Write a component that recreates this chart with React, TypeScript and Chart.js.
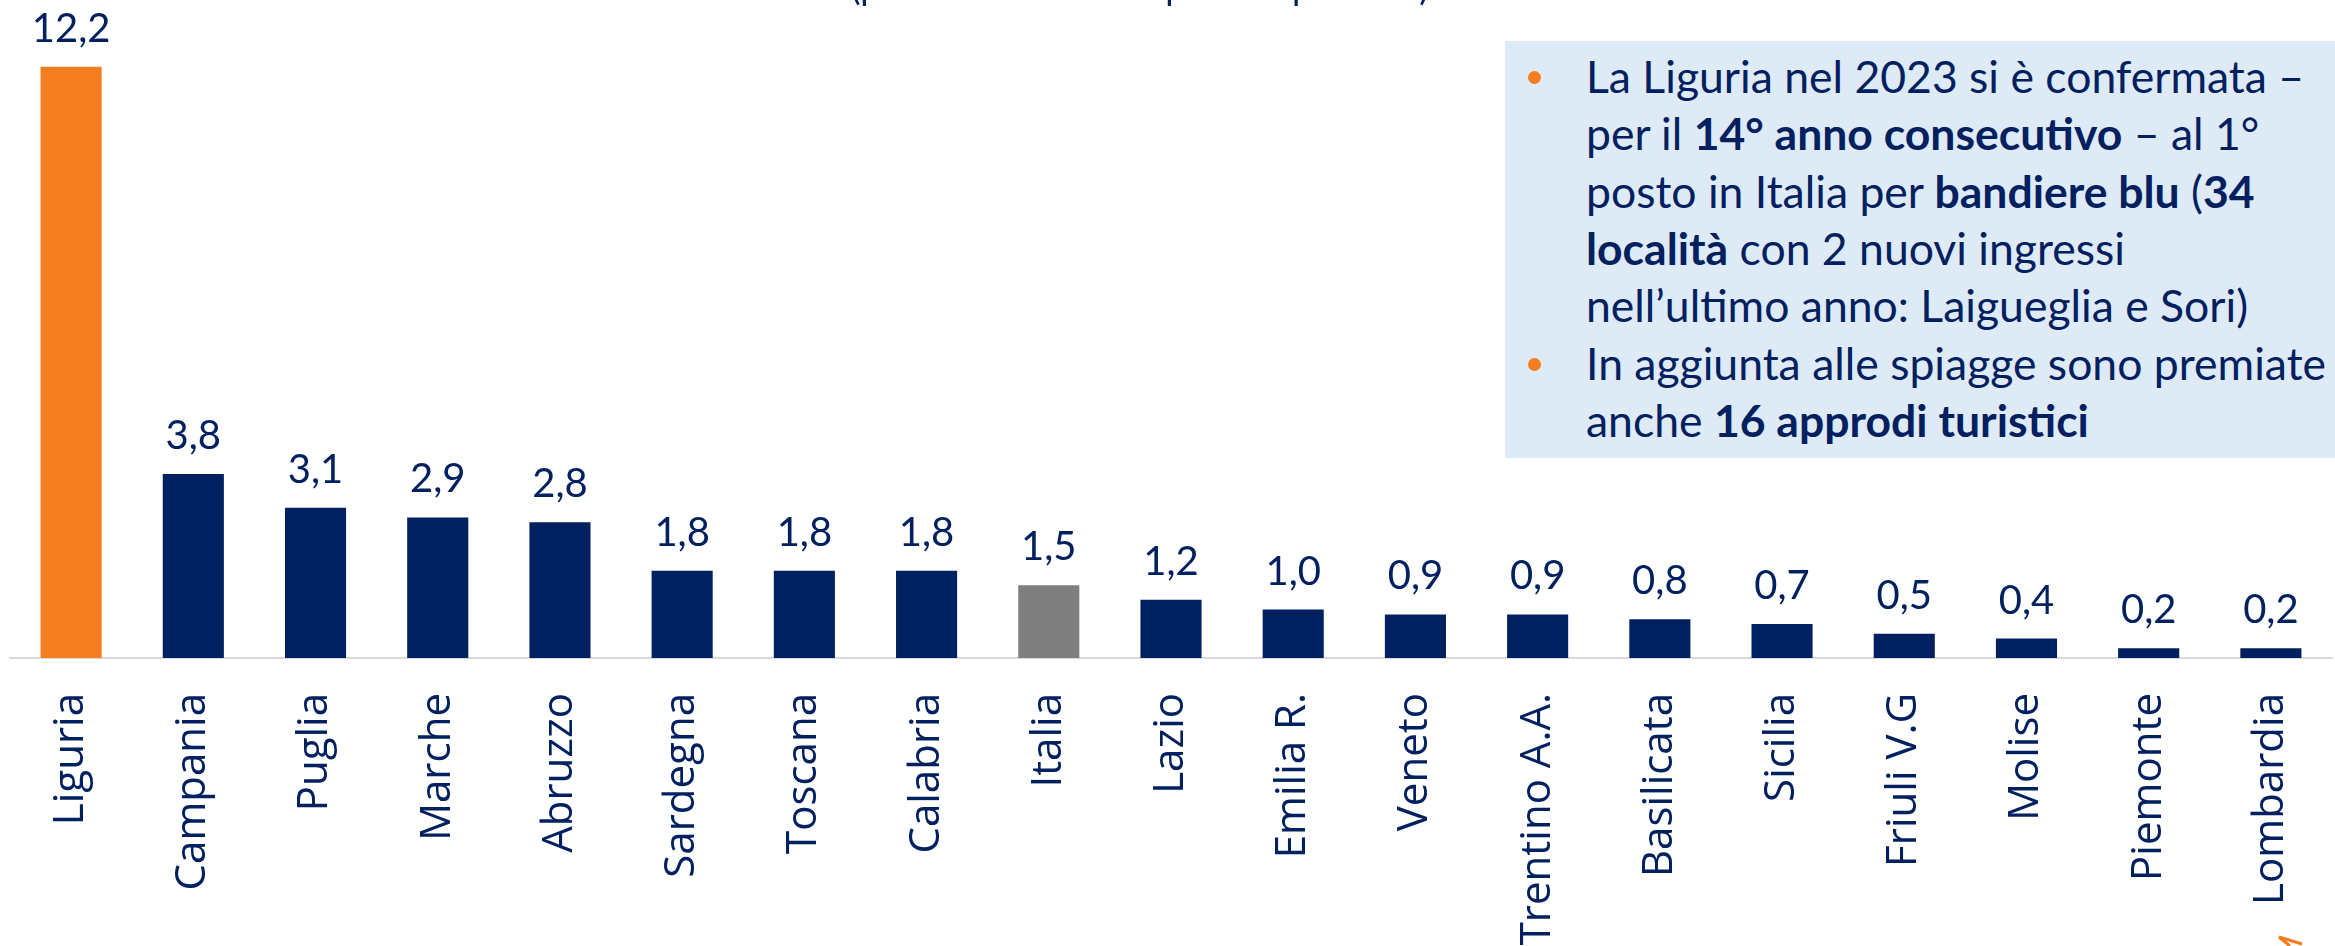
import React, { useEffect, useRef } from "react";
import { Chart, registerables } from "chart.js";

Chart.register(...registerables);

// ---- data ----
const categories: string[] = [
  "Liguria", "Campania", "Puglia", "Marche", "Abruzzo", "Sardegna", "Toscana",
  "Calabria", "Italia", "Lazio", "Emilia R.", "Veneto", "Trentino A.A.",
  "Basilicata", "Sicilia", "Friuli V.G", "Molise", "Piemonte", "Lombardia",
];
const values: number[] = [
  12.2, 3.8, 3.1, 2.9, 2.8, 1.8, 1.8, 1.8, 1.5, 1.2, 1.0, 0.9, 0.9, 0.8, 0.7, 0.5, 0.4, 0.2, 0.2,
];
const highlightCategory = "Liguria";
const averageCategory = "Italia";
const titleText = "(per 1.000 km² di superficie per area)";

type Seg = { t: string; b?: boolean };
const noteLines: { bullet: boolean; segs: Seg[] }[] = [
  { bullet: true, segs: [{ t: "La Liguria nel 2023 si è confermata –" }] },
  { bullet: false, segs: [{ t: "per il " }, { t: "14° anno consecutivo", b: true }, { t: " – al 1°" }] },
  { bullet: false, segs: [{ t: "posto in Italia per " }, { t: "bandiere blu", b: true }, { t: " (" }, { t: "34", b: true }] },
  { bullet: false, segs: [{ t: "località", b: true }, { t: " con 2 nuovi ingressi" }] },
  { bullet: false, segs: [{ t: "nell’ultimo anno: Laigueglia e Sori)" }] },
  { bullet: true, segs: [{ t: "In aggiunta alle spiagge sono premiate" }] },
  { bullet: false, segs: [{ t: "anche " }, { t: "16 approdi turistici", b: true }] },
];

const NAVY = "#002060";
const ORANGE = "#F47D20";
const GREY = "#7F7F7F";
const W = 2335;
const H = 946;
const VALUE_FONT = "Lato";
const TEXT_FONT = "Lato";
const LABEL_FONT = "'Open Sans'";

const fmt = (v: number) => v.toFixed(1).replace(".", ",");

const valueLabelPlugin = {
  id: "valueLabels",
  afterDatasetsDraw(chart: any) {
    const ctx = chart.ctx;
    const meta = chart.getDatasetMeta(0);
    ctx.save();
    ctx.font = `40px ${VALUE_FONT}`;
    ctx.fillStyle = NAVY;
    ctx.textAlign = "center";
    ctx.textBaseline = "alphabetic";
    meta.data.forEach((el: any, i: number) => {
      const v = chart.data.datasets[0].data[i] as number;
      ctx.fillText(fmt(v), el.x, el.y - 25);
    });
    ctx.restore();
  },
};

function BarChart() {
  const ref = useRef<HTMLCanvasElement | null>(null);
  useEffect(() => {
    let chart: Chart | null = null;
    let cancelled = false;
    const make = () => {
      if (cancelled || !ref.current) return;
      const colors = categories.map((c) =>
        c === highlightCategory ? ORANGE : c === averageCategory ? GREY : NAVY
      );
      chart = new Chart(ref.current, {
        type: "bar",
        data: {
          labels: categories,
          datasets: [
            {
              data: values,
              backgroundColor: colors,
              borderWidth: 0,
              barPercentage: 0.5,
              categoryPercentage: 1,
            },
          ],
        },
        options: {
          responsive: false,
          animation: false,
          devicePixelRatio: 1,
          layout: { padding: { left: 10, right: 3, top: 0, bottom: 0 } },
          plugins: {
            legend: { display: false },
            tooltip: { enabled: false },
            title: { display: false },
          },
          scales: {
            y: { display: false, min: 0, max: 13.58 },
            x: {
              offset: true,
              grid: { display: false, drawTicks: false },
              border: { display: true, color: "#D9D9D9", width: 2 },
              ticks: {
                autoSkip: false,
                minRotation: 90,
                maxRotation: 90,
                padding: 35,
                color: NAVY,
                font: { family: LABEL_FONT, size: 42 },
              },
              afterFit: (axis: any) => {
                axis.height = H - 658;
                axis.paddingLeft = 0;
                axis.paddingRight = 0;
              },
            },
          },
        },
        plugins: [valueLabelPlugin],
      });
    };
    const fontsReady = (document as any).fonts
      ? Promise.all([
          (document as any).fonts.load(`40px ${VALUE_FONT}`),
          (document as any).fonts.load(`42px ${LABEL_FONT}`),
        ]).catch(() => null)
      : Promise.resolve(null);
    fontsReady.then(make);
    return () => {
      cancelled = true;
      if (chart) chart.destroy();
    };
  }, []);
  return (
    <canvas
      ref={ref}
      width={W}
      height={H}
      style={{ position: "absolute", left: 0, top: 0, width: W, height: H }}
    />
  );
}

export default function App() {
  const lineH = 57.3;
  return (
    <div
      style={{
        position: "fixed",
        left: 0,
        top: 0,
        width: W,
        height: H,
        overflow: "hidden",
        background: "#ffffff",
      }}
    >
      <BarChart />
      <div
        style={{
          position: "absolute",
          left: 1140,
          top: -34,
          transform: "translateX(-50%)",
          whiteSpace: "nowrap",
          fontFamily: TEXT_FONT,
          fontSize: 36,
          lineHeight: "40px",
          color: NAVY,
        }}
      >
        {titleText}
      </div>
      <div
        style={{
          position: "absolute",
          left: 1505,
          top: 41,
          right: 0,
          height: 417,
          background: "#DEEAF6",
          overflow: "hidden",
          fontFamily: TEXT_FONT,
          fontSize: 44.5,
          color: NAVY,
        }}
      >
        {noteLines.map((ln, i) => (
          <div
            key={i}
            style={{
              position: "absolute",
              left: 0,
              top: 6 + i * lineH,
              height: lineH,
              lineHeight: `${lineH}px`,
              whiteSpace: "nowrap",
              width: 2000,
            }}
          >
            {ln.bullet && (
              <span
                style={{
                  position: "absolute",
                  left: 23,
                  top: 24,
                  width: 13,
                  height: 13,
                  borderRadius: "50%",
                  background: ORANGE,
                }}
              />
            )}
            <span style={{ position: "absolute", left: 81, top: 0 }}>
              {ln.segs.map((s, j) => (
                <span key={j} style={{ fontWeight: s.b ? 700 : 400 }}>
                  {s.t}
                </span>
              ))}
            </span>
          </div>
        ))}
      </div>
      <svg
        style={{ position: "absolute", left: 2268, top: 928 }}
        width={40}
        height={18}
      >
        <polyline
          points="22,18 11,9 34,16"
          fill="none"
          stroke={ORANGE}
          strokeWidth={3}
        />
      </svg>
    </div>
  );
}
